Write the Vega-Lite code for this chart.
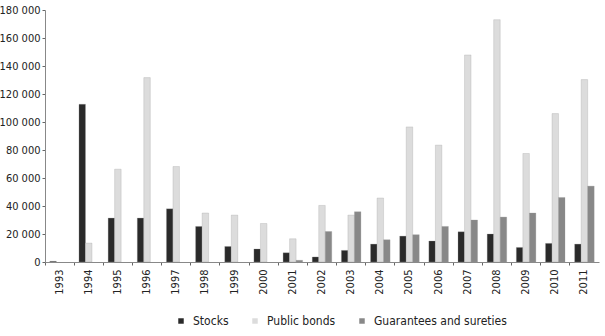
{
  "$schema": "https://vega.github.io/schema/vega-lite/v6.json",
  "autosize": "none",
  "padding": {"left": 45, "top": 10, "right": 6, "bottom": 74},
  "width": 554,
  "height": 252,
  "background": "white",
  "config": {
    "view": {"stroke": null},
    "font": "DejaVu Sans Condensed, Liberation Sans Narrow, sans-serif"
  },
  "data": {
    "values": [
      {"year": "1993", "series": "Stocks", "value": 500},
      {"year": "1994", "series": "Stocks", "value": 112700},
      {"year": "1994", "series": "Public bonds", "value": 13500},
      {"year": "1995", "series": "Stocks", "value": 31400},
      {"year": "1995", "series": "Public bonds", "value": 66300},
      {"year": "1996", "series": "Stocks", "value": 31400},
      {"year": "1996", "series": "Public bonds", "value": 131700},
      {"year": "1997", "series": "Stocks", "value": 38000},
      {"year": "1997", "series": "Public bonds", "value": 68200},
      {"year": "1998", "series": "Stocks", "value": 25400},
      {"year": "1998", "series": "Public bonds", "value": 35000},
      {"year": "1999", "series": "Stocks", "value": 11100},
      {"year": "1999", "series": "Public bonds", "value": 33500},
      {"year": "2000", "series": "Stocks", "value": 9300},
      {"year": "2000", "series": "Public bonds", "value": 27500},
      {"year": "2001", "series": "Stocks", "value": 6600},
      {"year": "2001", "series": "Public bonds", "value": 16600},
      {"year": "2001", "series": "Guarantees and sureties", "value": 1200},
      {"year": "2002", "series": "Stocks", "value": 3600},
      {"year": "2002", "series": "Public bonds", "value": 40400},
      {"year": "2002", "series": "Guarantees and sureties", "value": 21800},
      {"year": "2003", "series": "Stocks", "value": 8300},
      {"year": "2003", "series": "Public bonds", "value": 33500},
      {"year": "2003", "series": "Guarantees and sureties", "value": 35900},
      {"year": "2004", "series": "Stocks", "value": 12800},
      {"year": "2004", "series": "Public bonds", "value": 45700},
      {"year": "2004", "series": "Guarantees and sureties", "value": 15900},
      {"year": "2005", "series": "Stocks", "value": 18500},
      {"year": "2005", "series": "Public bonds", "value": 96500},
      {"year": "2005", "series": "Guarantees and sureties", "value": 19500},
      {"year": "2006", "series": "Stocks", "value": 15000},
      {"year": "2006", "series": "Public bonds", "value": 83500},
      {"year": "2006", "series": "Guarantees and sureties", "value": 25400},
      {"year": "2007", "series": "Stocks", "value": 21600},
      {"year": "2007", "series": "Public bonds", "value": 147900},
      {"year": "2007", "series": "Guarantees and sureties", "value": 30000},
      {"year": "2008", "series": "Stocks", "value": 20000},
      {"year": "2008", "series": "Public bonds", "value": 173100},
      {"year": "2008", "series": "Guarantees and sureties", "value": 32100},
      {"year": "2009", "series": "Stocks", "value": 10400},
      {"year": "2009", "series": "Public bonds", "value": 77500},
      {"year": "2009", "series": "Guarantees and sureties", "value": 35000},
      {"year": "2010", "series": "Stocks", "value": 13300},
      {"year": "2010", "series": "Public bonds", "value": 106000},
      {"year": "2010", "series": "Guarantees and sureties", "value": 46100},
      {"year": "2011", "series": "Stocks", "value": 12800},
      {"year": "2011", "series": "Public bonds", "value": 130300},
      {"year": "2011", "series": "Guarantees and sureties", "value": 54200}
    ]
  },
  "mark": {"type": "bar", "stroke": "#9a9a9a", "strokeWidth": 0.4, "strokeOpacity": 0.7},
  "encoding": {
    "x": {
      "field": "year",
      "type": "nominal",
      "scale": {"paddingInner": 0.33, "paddingOuter": 0.165},
      "axis": {
        "title": null,
        "labelAngle": -90,
        "labelFontSize": 11,
        "labelColor": "#222",
        "labelPadding": 4,
        "tickSize": 3,
        "tickColor": "#666",
        "domainColor": "#888",
        "bandPosition": -0.246
      }
    },
    "xOffset": {
      "field": "series",
      "type": "nominal",
      "sort": ["Stocks", "Public bonds", "Guarantees and sureties"]
    },
    "y": {
      "field": "value",
      "type": "quantitative",
      "scale": {"domain": [0, 180000], "nice": false},
      "axis": {
        "title": null,
        "values": [0, 20000, 40000, 60000, 80000, 100000, 120000, 140000, 160000, 180000],
        "labelExpr": "replace(format(datum.value, ','), /,/g, ' ')",
        "labelFontSize": 11,
        "labelColor": "#222",
        "labelPadding": 2,
        "tickSize": 3,
        "tickColor": "#666",
        "domainColor": "#888",
        "grid": false
      }
    },
    "color": {
      "field": "series",
      "type": "nominal",
      "scale": {
        "domain": ["Stocks", "Public bonds", "Guarantees and sureties"],
        "range": ["#2a2a2a", "#dcdcdc", "#888888"]
      },
      "legend": {
        "title": null,
        "orient": "none",
        "direction": "horizontal",
        "legendX": 130,
        "legendY": 305,
        "symbolType": "square",
        "symbolSize": 30,
        "symbolStrokeWidth": 0,
        "labelFontSize": 12,
        "labelColor": "#222",
        "labelOffset": 6,
        "columnPadding": 20
      }
    }
  }
}
